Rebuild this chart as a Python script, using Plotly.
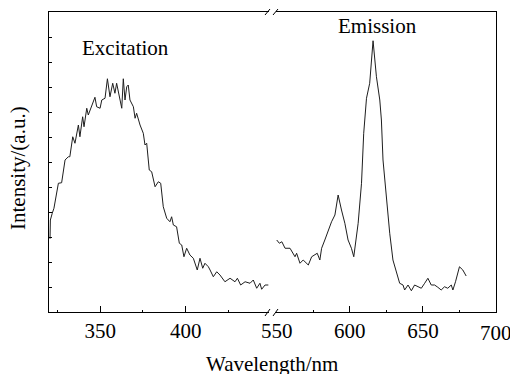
import plotly.graph_objects as go
from plotly.subplots import make_subplots

# Excitation spectrum (wavelength nm, intensity a.u.)
exc_wl = [320.6, 320.8, 321.9, 322.9, 325.5, 327.4, 329.4, 331.3, 332.2, 333.9, 335.2, 337.2, 338.1,
          339.7, 340.5, 342.1, 343.0, 345.0, 346.9, 347.9, 349.9, 350.9, 352.8, 354.2, 355.7, 357.3,
          358.6, 359.6, 361.2, 362.6, 363.5, 364.5, 365.5, 366.4, 367.4, 369.4, 370.4, 371.3, 373.3,
          375.2, 376.2, 377.2, 378.7, 380.1, 382.1, 384.0, 385.4, 386.9, 388.9, 390.8, 391.8, 392.8,
          394.7, 396.3, 397.7, 399.0, 400.6, 402.5, 404.5, 406.8, 408.4, 410.0, 411.3, 413.3, 414.3,
          416.2, 418.2, 420.1, 423.0, 426.0, 428.9, 430.3, 432.2, 434.8, 437.7, 439.6, 441.6, 443.5,
          444.5, 446.5, 448.4]
exc_int = [2.93, 3.68, 3.95, 4.15, 5.15, 5.17, 6.08, 6.21, 6.21, 7.01, 6.75, 7.48, 7.01,
           7.81, 7.41, 8.15, 7.88, 8.21, 8.59, 8.21, 8.15, 8.48, 8.55, 9.33, 8.61, 9.15,
           8.75, 9.15, 8.61, 8.15, 9.33, 8.48, 9.01, 9.08, 8.48, 8.21, 7.75, 7.95, 7.48,
           7.15, 6.68, 6.75, 5.68, 5.61, 5.01, 5.21, 5.15, 4.21, 3.75, 3.61, 3.81, 3.48,
           3.41, 2.75, 2.68, 2.21, 2.55, 2.28, 2.15, 1.68, 2.15, 1.75, 1.95, 1.81, 1.68,
           1.41, 1.61, 1.48, 1.21, 1.35, 1.21, 1.35, 1.08, 1.21, 1.15, 1.28, 0.95, 1.15,
           0.91, 1.08, 1.08]

# Emission spectrum
emi_wl = [550.0, 551.8, 553.5, 555.7, 559.1, 561.3, 562.5, 563.6, 565.9, 568.1, 571.6, 573.9, 576.1,
          577.7, 579.5, 580.7, 582.9, 585.2, 587.5, 589.8, 592.0, 594.3, 596.6, 598.8, 601.1, 602.7,
          605.7, 608.0, 609.5, 611.4, 613.6, 615.9, 618.2, 620.5, 621.6, 622.7, 625.0, 627.3, 629.5,
          631.9, 634.1, 636.4, 637.5, 639.8, 642.1, 644.3, 646.6, 648.9, 651.2, 653.4, 655.7, 658.0,
          660.2, 662.5, 664.8, 667.0, 669.4, 670.5, 672.3, 675.0, 677.3, 679.6]
emi_int = [2.88, 2.75, 2.81, 2.55, 2.55, 2.35, 2.21, 2.35, 1.95, 2.08, 1.88, 2.21, 2.28,
           2.35, 2.08, 2.55, 2.88, 3.28, 3.61, 3.88, 4.68, 4.08, 3.55, 2.88, 2.55, 2.21,
           3.55, 5.15, 7.15, 8.55, 9.15, 10.85, 9.41, 8.48, 7.68, 6.08, 4.48, 3.15, 2.08,
           1.55, 1.15, 1.08, 0.88, 1.08, 0.85, 1.08, 1.01, 0.95, 1.15, 1.35, 1.08, 1.08,
           0.99, 0.88, 1.01, 0.95, 1.08, 0.88, 1.21, 1.81, 1.68, 1.44]

left_ticks = [350, 400]
left_minor = [325, 375, 425]
right_ticks = [550, 600, 650, 700]
right_labels = ["550", "600", "650", ""]   # last label drawn as annotation (edge of page)
right_minor = [575, 625, 675]

FONT = "Liberation Serif, Times New Roman, serif"
W, H = 510, 374
ml, mr, mt, mb = 49, 14, 12, 62
pw = W - ml - mr
ph = H - mt - mb

fig = make_subplots(rows=1, cols=2, shared_yaxes=False, horizontal_spacing=0)
fig.add_trace(go.Scatter(x=exc_wl, y=exc_int, mode="lines",
                         line=dict(color="#1e1e1e", width=1), showlegend=False), row=1, col=1)
fig.add_trace(go.Scatter(x=emi_wl, y=emi_int, mode="lines",
                         line=dict(color="#1e1e1e", width=1), showlegend=False), row=1, col=2)

left_dom = [0, 220 / pw]
right_dom = [227 / pw, 1]

common_x = dict(showline=True, linecolor="black", linewidth=1, mirror=True, ticks="inside",
                ticklen=6, tickwidth=1, tickcolor="black", showgrid=False, zeroline=False,
                tickfont=dict(family=FONT, size=21, color="black"))
fig.update_layout(
    font=dict(family=FONT, color="black"),
    xaxis=dict(domain=left_dom, range=[320, 448.8], tickmode="array", tickvals=left_ticks,
               minor=dict(tickmode="array", tickvals=left_minor, ticks="inside", ticklen=2,
                          tickcolor="black"), **common_x),
    xaxis2=dict(domain=right_dom, range=[549.5, 700], tickmode="array", tickvals=right_ticks,
                ticktext=right_labels,
                minor=dict(tickmode="array", tickvals=right_minor, ticks="inside", ticklen=2,
                           tickcolor="black"), **common_x),
    yaxis=dict(range=[0, 12], dtick=1, tick0=0, showticklabels=False, ticks="inside", ticklen=3,
               tickcolor="black", showline=True, linecolor="black", linewidth=1, mirror=False,
               showgrid=False, zeroline=False),
    yaxis2=dict(range=[0, 12], showticklabels=False, ticks="", side="right", showline=True,
                linecolor="black", linewidth=1, mirror=False, showgrid=False, zeroline=False,
                anchor="x2"),
    width=W, height=H, margin=dict(l=ml, r=mr, t=mt, b=mb),
    paper_bgcolor="white", plot_bgcolor="white",
)

# break marks
def px2paper(px, py):
    return (px - ml) / pw, 1 - (py - mt) / ph

for (x0, y0, x1, y1) in [(265, 15, 270, 9), (273, 15, 278, 9),
                         (265, 316, 270, 309), (273, 316, 278, 309)]:
    a = px2paper(x0, y0)
    b = px2paper(x1, y1)
    fig.add_shape(type="line", xref="paper", yref="paper", x0=a[0], y0=a[1], x1=b[0], y1=b[1],
                  line=dict(color="black", width=1))

fig.add_annotation(text=str(right_ticks[-1]), x=right_ticks[-1], xref="x2",
                   y=-(333 - mt - ph) / ph, yref="paper", showarrow=False, yanchor="middle",
                   xanchor="center", font=dict(family=FONT, size=21, color="black"))
fig.add_annotation(text="Excitation", x=364.5, y=10.57, xref="x", yref="y", showarrow=False,
                   font=dict(family=FONT, size=21, color="black"))
fig.add_annotation(text="Emission", x=619.1, y=11.44, xref="x2", yref="y2", showarrow=False,
                   font=dict(family=FONT, size=21, color="black"))
fig.add_annotation(text="Wavelength/nm", x=0.499, y=-(364 - mt - ph) / ph, xref="paper",
                   yref="paper", showarrow=False, yanchor="middle",
                   font=dict(family=FONT, size=21, color="black"))
fig.add_annotation(text="Intensity/(a.u.)", x=-(ml - 18) / pw, y=1 - (168 - mt) / ph,
                   xref="paper", yref="paper", showarrow=False, textangle=-90,
                   xanchor="center", yanchor="middle",
                   font=dict(family=FONT, size=21, color="black"))

fig.write_html("out.html", config={"displayModeBar": False},
               post_script="document.body.style.margin='0';")
